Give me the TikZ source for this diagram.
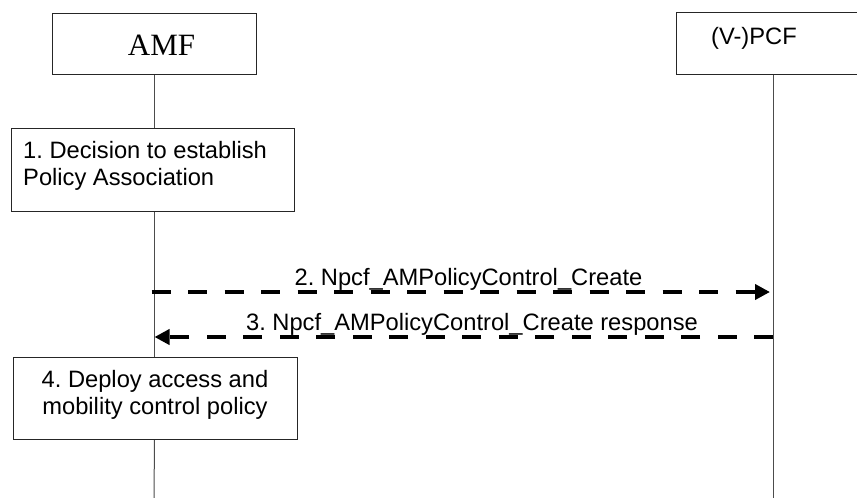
\documentclass[tikz,border=0pt]{standalone}
\usepackage{fontspec}
\setmainfont{Liberation Sans}
\newfontfamily\amfserif{Liberation Serif}
\usetikzlibrary{arrows.meta}
\frenchspacing
\begin{document}
\begin{tikzpicture}[x=1pt,y=-1pt,
  box/.style={draw=black!85, line width=1pt, fill=white, inner sep=0pt, anchor=north west},
  life/.style={draw=black!70, line width=1pt},
  msg/.style={line width=4.3pt, dash pattern=on 19pt off 17.5pt, -{Triangle[length=15pt,width=15pt]}},
  txt/.style={inner sep=0pt, font=\fontsize{23.7}{27.5}\selectfont},
]
\useasboundingbox (0,0) rectangle (857,498);
\clip (0,0) rectangle (857,498);
% entity boxes
\node[box, minimum width=204pt, minimum height=61pt] (amf) at (52,13) {};
\node[inner sep=0pt, font=\amfserif\fontsize{31}{31}\selectfont, anchor=base] (amft) at (161.5,55) {AMF};
\node[box, minimum width=184pt, minimum height=62pt] (pcf) at (676,12) {};
\node[txt, anchor=base west] (pcft) at (711,44) {(V-)PCF};
% step boxes
\node[box, minimum width=283pt, minimum height=83pt] (b1) at (11,128) {};
\node[txt, anchor=north west, align=left] (b1t) at (23,141) {1. Decision to establish\\Policy Association};
\node[box, minimum width=284pt, minimum height=82pt] (b4) at (13,357) {};
\node[txt, anchor=north, align=center] (b4t) at (155,370) {4. Deploy access and\\mobility control policy};
% lifelines
\coordinate (amfbot) at (154,498);
\coordinate (pcfbot) at (773,498);
\draw[life] (amf.south) -- (amf.south |- b1.north);
\draw[life] (amf.south |- b1.south) -- (amf.south |- b4.north);
\draw[life] (amf.south |- b4.south) -- (amfbot);
\draw[life] (pcfbot |- pcf.south) -- (pcfbot);
% messages
\coordinate (y2) at (0,292);
\coordinate (y3) at (0,337);
\node[txt, anchor=base] (l2) at (468.5,285) {2. Npcf\_AMPolicyControl\_Create};
\node[txt, anchor=base] (l3) at (472,330) {3. Npcf\_AMPolicyControl\_Create response};
\draw[msg] ([xshift=-3pt]amf.south |- y2) -- ([xshift=-3pt]pcfbot |- y2);
\draw[msg] (pcfbot |- y3) -- (amf.south |- y3);
\end{tikzpicture}
\end{document}
